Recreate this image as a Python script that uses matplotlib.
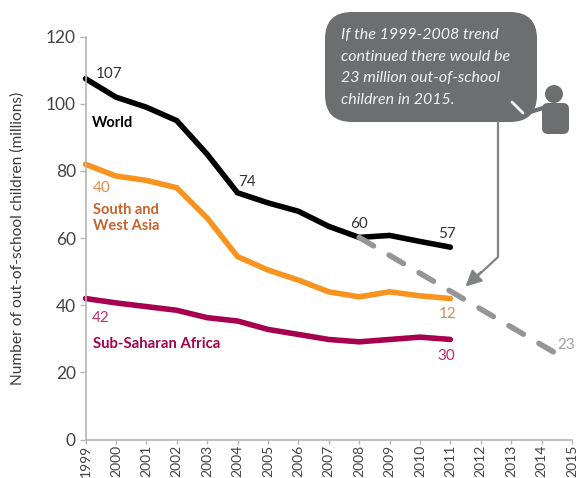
import matplotlib
matplotlib.use('Agg')
import matplotlib.pyplot as plt
from matplotlib.patches import FancyBboxPatch, Circle

plt.rcParams['font.family'] = ['Lato', 'DejaVu Sans']

years = list(range(1999, 2012))
tick_years = list(range(1999, 2016))
y_ticks = [0, 20, 40, 60, 80, 100, 120]

world = [107.5, 102, 99, 95, 85, 73.5, 70.5, 68, 63.5, 60.2, 60.8, 59, 57.3]
south_west_asia = [82, 78.5, 77.2, 75, 66, 54.5, 50.5, 47.5, 44, 42.5, 44, 42.8, 42]
sub_saharan = [42, 40.7, 39.6, 38.5, 36.3, 35.3, 32.8, 31.3, 29.8, 29.1, 29.8, 30.5, 29.8]

trend_years = [2008, 2014.5]
trend_values = [60.2, 25.5]

fig = plt.figure(figsize=(5.8, 4.78), dpi=100)
ax = fig.add_axes([85.5/580, 1-439.5/478, (572-85.5)/580, (439.5-36.7)/478])

# lines
ax.plot(years, world, color='black', lw=4, solid_capstyle='round', solid_joinstyle='miter', clip_on=False)
ax.plot(years, south_west_asia, color='#f7931e', lw=4, solid_capstyle='round', solid_joinstyle='miter', clip_on=False)
ax.plot(years, sub_saharan, color='#a6004e', lw=4, solid_capstyle='round', solid_joinstyle='miter', clip_on=False)
ax.plot(trend_years, trend_values, color='#939598', lw=4, dash_capstyle='round', dashes=(3.0, 3.26), clip_on=False)

ax.set_xlim(1999, 2015)
ax.set_ylim(0, 120)
ax.set_xticks(tick_years)
ax.set_xticklabels(tick_years, rotation=90, fontsize=10, color='#444444')
ax.set_yticks(y_ticks)
ax.set_yticklabels(y_ticks, fontsize=12.5, color='#444444')
ax.tick_params(axis='y', color='#b5b5b5', length=4, width=1, pad=3)
ax.tick_params(axis='x', color='#b5b5b5', length=3, width=1, pad=1)
ax.set_ylabel('Number of out-of-school children (millions)', fontsize=11.2, color='#3c3c3c', labelpad=15)
for s in ['top', 'right']:
    ax.spines[s].set_visible(False)
for s in ['left', 'bottom']:
    ax.spines[s].set_color('#b5b5b5')
    ax.spines[s].set_linewidth(1.2)

# value labels
ax.text(1999.35, 106.8, '107', fontsize=11, color='#333333', va='bottom', ha='left')
ax.text(2004.3, 74.5, '74', fontsize=11, color='#333333', ha='center', va='bottom')
ax.text(2008, 62, '60', fontsize=11, color='#333333', ha='center', va='bottom')
ax.text(2010.9, 59, '57', fontsize=11, color='#333333', ha='center', va='bottom')
ax.text(1999.52, 75, '40', fontsize=11, color='#e08a4a', ha='center', va='center')
ax.text(2010.9, 37.5, '12', fontsize=11, color='#e08a4a', ha='center', va='center')
ax.text(1999.5, 36.2, '42', fontsize=11, color='#b8326e', ha='center', va='center')
ax.text(2010.85, 25, '30', fontsize=11, color='#c7286f', ha='center', va='center')
ax.text(2014.5, 28.1, '23', fontsize=11, color='#a0a0a0', ha='left', va='center')

# series names
ax.text(1999.2, 94.2, 'World', fontsize=10.5, weight='bold', color='black', va='center')
ax.text(1999.25, 66, 'South and\nWest Asia', fontsize=10.5, weight='bold', color='#c9632a', va='center', linespacing=1.15)
ax.text(1999.25, 28.5, 'Sub-Saharan Africa', fontsize=10.7, weight='bold', color='#a6004e', va='center')

# callout drawn on an overlay in pixel units
ov = fig.add_axes([0, 0, 1, 1])
ov.set_xlim(0, 580)
ov.set_ylim(478, 0)
ov.axis('off')
bubble_col = '#6d6e70'
ov.add_patch(FancyBboxPatch((325, 12), 212, 110, boxstyle='round,pad=0,rounding_size=27', fc=bubble_col, ec='none'))
ov.plot([498, 498, 470], [122, 257, 283], color='#808285', lw=1.6)
ov.annotate('', xy=(465.5, 286.5), xytext=(481, 272),
            arrowprops=dict(arrowstyle='-|>', color='#808285', lw=1.6, mutation_scale=24, shrinkA=0, shrinkB=0))
bubble_lines = ['If the 1999-2008 trend', 'continued there would be', '23 million out-of-school', 'children in 2015.']
for y, line in zip([35, 57, 78, 100], bubble_lines):
    ov.text(341, y, line, fontsize=11.5, style='italic', color='#f2f2f2', va='center', ha='left')
# person icon
ov.add_patch(Circle((554, 94), 9, fc=bubble_col, ec='none'))
ov.add_patch(FancyBboxPatch((542, 103), 27, 31, boxstyle='round,pad=0,rounding_size=6', fc=bubble_col, ec='none'))
ov.plot([524, 546], [114, 107], color=bubble_col, lw=3)
ov.plot([512, 523], [102, 113], color='#f2f2f2', lw=2, solid_capstyle='round')

fig.savefig('out.png', dpi=100)
